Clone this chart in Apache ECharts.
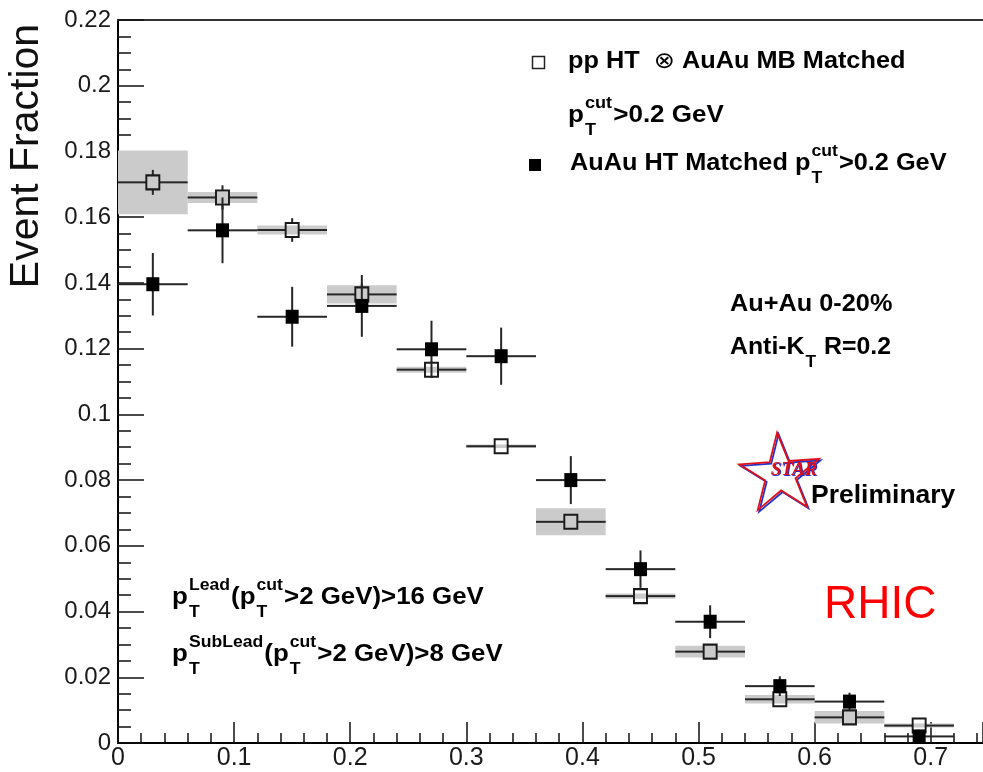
<!DOCTYPE html>
<html>
<head>
<meta charset="utf-8">
<script src="https://cdn.jsdelivr.net/npm/echarts@6/dist/echarts.min.js"></script>
<style>
  html, body { margin: 0; padding: 0; background: #ffffff; }
  #chart { width: 983px; height: 772px; }
</style>
</head>
<body>
<div id="chart"></div>
<script>
// Bin centres (12 bins, width 0.06)
const binCenters = [0.03, 0.09, 0.15, 0.21, 0.27, 0.33, 0.39, 0.45, 0.51, 0.57, 0.63, 0.69];
const binHalfWidth = 0.03;

// pp HT (x) AuAu MB matched: value, statistical error, systematic error
const ppEmbedFraction = [0.1706, 0.1660, 0.1561, 0.1365, 0.1136, 0.0903, 0.0673, 0.0447, 0.0278, 0.0133, 0.0078, 0.0053];
const ppEmbedStat     = [0.0038, 0.0037, 0.0036, 0.0033, 0.0025, 0.0021, 0.0019, 0.0017, 0.0014, 0.0011, 0.0009, 0.0008];
const ppEmbedSys      = [0.0097, 0.0017, 0.0014, 0.0028, 0.0009, 0.0005, 0.0041, 0.0008, 0.0018, 0.0013, 0.0019, 0.0006];

// AuAu HT matched: value, statistical error
const auauFraction = [0.1396, 0.1560, 0.1297, 0.1330, 0.1198, 0.1177, 0.0800, 0.0529, 0.0369, 0.0173, 0.0126, 0.0020];
const auauStat     = [0.0095, 0.0100, 0.0091, 0.0094, 0.0087, 0.0087, 0.0073, 0.0057, 0.0050, 0.0030, 0.0027, 0.0020];

// Axis tick labels
const xTickLabels = ['0', '0.1', '0.2', '0.3', '0.4', '0.5', '0.6', '0.7'];
const yTickLabels = ['0', '0.02', '0.04', '0.06', '0.08', '0.1', '0.12', '0.14', '0.16', '0.18', '0.2', '0.22'];
const xStep = 0.1, yStep = 0.02;
const xMax = 0.745;

const FONT = '"Liberation Sans", "DejaVu Sans", Arial, sans-serif';
const SERIF = '"Liberation Serif", "DejaVu Serif", serif';

// --- text helpers for sub/superscript annotations -------------------------
const measureCtx = document.createElement('canvas').getContext('2d');
function textWidth(str, size, weight) {
  measureCtx.font = weight + ' ' + size + 'px ' + FONT;
  return measureCtx.measureText(str).width;
}
function textEl(str, x, y, size, weight, color) {
  return {
    type: 'text', x: x, y: y, silent: true,
    style: { text: str, font: weight + ' ' + size + 'px ' + FONT, fill: color, align: 'left', verticalAlign: 'middle' }
  };
}
// parts: [{t:'base', sup:'..', sub:'..', w:'normal'}]; y is the middle of the main text
function richLine(x, y, parts, opt) {
  const size = opt.size, color = opt.color || '#000';
  const small = Math.round(size * 0.7);
  const kids = [];
  let cx = 0;
  parts.forEach(function (p) {
    const weight = p.w || opt.weight || 'bold';
    if (p.t) {
      kids.push(textEl(p.t, cx, 0, size, weight, color));
      cx += textWidth(p.t, size, weight);
    }
    if (p.sup || p.sub) {
      let w = 0;
      if (p.sup) {
        kids.push(textEl(p.sup, cx + 1, -0.52 * size, small, weight, color));
        w = Math.max(w, textWidth(p.sup, small, weight));
      }
      if (p.sub) {
        kids.push(textEl(p.sub, cx + 1, 0.62 * size, small, weight, color));
        w = Math.max(w, textWidth(p.sub, small, weight));
      }
      cx += w + 2;
    }
  });
  return { type: 'group', x: x, y: y, scaleX: opt.scaleX || 1, children: kids };
}

function starPoints(cx, cy, R, r, rotDeg) {
  const pts = [];
  for (let k = 0; k < 10; k++) {
    const ang = (rotDeg - 90 + k * 36) * Math.PI / 180;
    const rad = k % 2 === 0 ? R : r;
    pts.push([cx + rad * Math.cos(ang), cy + rad * Math.sin(ang)]);
  }
  return pts;
}

// --- custom renderers ------------------------------------------------------
function renderSysBox(params, api) {
  const x = api.value(0), y = api.value(1), e = api.value(2);
  const p1 = api.coord([x - binHalfWidth, y + e]);
  const p2 = api.coord([x + binHalfWidth, y - e]);
  return {
    type: 'rect',
    shape: { x: p1[0], y: p1[1], width: p2[0] - p1[0], height: Math.max(p2[1] - p1[1], 1) },
    style: { fill: '#cbcbcb' }
  };
}
function makeErrorRenderer(markerHalfW, markerHalfH) {
  return function (params, api) {
    const x = api.value(0), y = api.value(1), e = api.value(2);
    const c = api.coord([x, y]);
    const l = api.coord([x - binHalfWidth, y]);
    const r = api.coord([x + binHalfWidth, y]);
    const t = api.coord([x, y + e]);
    const b = api.coord([x, y - e]);
    const style = { stroke: '#262626', lineWidth: 2 };
    const kids = [
      { type: 'line', shape: { x1: l[0], y1: c[1], x2: c[0] - markerHalfW, y2: c[1] }, style: style },
      { type: 'line', shape: { x1: c[0] + markerHalfW, y1: c[1], x2: r[0], y2: c[1] }, style: style }
    ];
    if (t[1] < c[1] - markerHalfH) {
      kids.push({ type: 'line', shape: { x1: c[0], y1: t[1], x2: c[0], y2: c[1] - markerHalfH }, style: style });
      kids.push({ type: 'line', shape: { x1: c[0], y1: c[1] + markerHalfH, x2: c[0], y2: b[1] }, style: style });
    }
    return { type: 'group', children: kids };
  };
}

const ppSysData  = binCenters.map(function (x, i) { return [x, ppEmbedFraction[i], ppEmbedSys[i]]; });
const ppErrData  = binCenters.map(function (x, i) { return [x, ppEmbedFraction[i], ppEmbedStat[i]]; });
const ppPoints   = binCenters.map(function (x, i) { return [x, ppEmbedFraction[i]]; });
const auErrData  = binCenters.map(function (x, i) { return [x, auauFraction[i], auauStat[i]]; });
const auPoints   = binCenters.map(function (x, i) { return [x, auauFraction[i]]; });

function tickLabel(labels, step) {
  return function (v) {
    const i = Math.round(v / step);
    return (Math.abs(v - i * step) < 1e-6 && i >= 0 && i < labels.length) ? labels[i] : '';
  };
}

const markerSize = [13, 14];

const chart = echarts.init(document.getElementById('chart'), null, { renderer: 'canvas' });

const option = {
  animation: false,
  backgroundColor: '#ffffff',
  grid: { left: 118, top: 20, right: 0, bottom: 29, containLabel: false, outerBoundsMode: 'none' },
  xAxis: [{
    type: 'value', min: 0, max: xMax, interval: xStep,
    axisLine: { show: true, onZero: false, lineStyle: { color: '#000', width: 2 } },
    axisTick: { show: true, inside: true, length: 21, lineStyle: { color: '#111', width: 1.5 } },
    minorTick: { show: true, splitNumber: 5, length: 10, lineStyle: { color: '#111', width: 1.5 } },
    splitLine: { show: false }, minorSplitLine: { show: false },
    axisLabel: { show: true, margin: 3, color: '#1a1a1a', fontFamily: FONT, fontSize: 25,
      showMaxLabel: false, formatter: tickLabel(xTickLabels, xStep) }
  }, {
    type: 'value', position: 'top', min: 0, max: xMax,
    axisLine: { show: true, onZero: false, lineStyle: { color: '#333', width: 2 } },
    axisTick: { show: false }, axisLabel: { show: false }, splitLine: { show: false }
  }],
  yAxis: {
    type: 'value', min: 0, max: 0.22, interval: yStep,
    axisLine: { show: true, onZero: false, lineStyle: { color: '#000', width: 2 } },
    axisTick: { show: true, inside: true, length: 26, lineStyle: { color: '#111', width: 1.5 } },
    minorTick: { show: true, splitNumber: 4, length: 13, lineStyle: { color: '#111', width: 1.5 } },
    splitLine: { show: false }, minorSplitLine: { show: false },
    axisLabel: { show: true, margin: 7, color: '#1a1a1a', fontFamily: FONT, fontSize: 24,
      formatter: tickLabel(yTickLabels, yStep) }
  },
  series: [
    { type: 'custom', name: 'ppSys', renderItem: renderSysBox, data: ppSysData, z: 1, silent: true,
      encode: { x: 0, y: 1 } },
    { type: 'custom', name: 'ppErr', renderItem: makeErrorRenderer(6.5, 7), data: ppErrData, z: 2, silent: true,
      encode: { x: 0, y: 1 } },
    { type: 'scatter', name: 'pp HT (x) AuAu MB Matched', data: ppPoints, symbol: 'rect', symbolSize: markerSize,
      itemStyle: { color: 'rgba(0,0,0,0)', borderColor: '#1a1a1a', borderWidth: 2, opacity: 1 }, z: 3, silent: true },
    { type: 'custom', name: 'auErr', renderItem: makeErrorRenderer(6, 6), data: auErrData, z: 4, silent: true,
      encode: { x: 0, y: 1 } },
    { type: 'scatter', name: 'AuAu HT Matched', data: auPoints, symbol: 'rect', symbolSize: markerSize,
      itemStyle: { color: '#000', opacity: 1 }, z: 5, silent: true }
  ],
  graphic: [
    // y axis title
    { type: 'text', x: 27, y: 156, rotation: Math.PI / 2, silent: true,
      style: { text: 'Event Fraction', font: '41px ' + FONT, fill: '#111', align: 'center', verticalAlign: 'middle' } },

    // legend
    { type: 'rect', shape: { x: 532.5, y: 56.5, width: 12, height: 12 }, silent: true,
      style: { fill: '#fff', stroke: '#222', lineWidth: 1.5 } },
    richLine(568, 62, [{ t: 'pp HT  ' }, { t: '\u2297', w: 'normal' }, { t: ' AuAu MB Matched' }], { size: 23, scaleX: 1.1 }),
    richLine(568, 116, [{ t: 'p', sup: 'cut', sub: 'T' }, { t: '>0.2 GeV' }], { size: 23, scaleX: 1.13 }),
    { type: 'rect', shape: { x: 529, y: 159, width: 12, height: 12 }, silent: true,
      style: { fill: '#000' } },
    richLine(570, 164, [{ t: 'AuAu HT Matched p', sup: 'cut', sub: 'T' }, { t: '>0.2 GeV' }], { size: 23, scaleX: 1.1 }),

    // collision system / jet definition
    richLine(730, 305, [{ t: 'Au+Au 0-20%' }], { size: 23, scaleX: 1.1 }),
    richLine(730, 348, [{ t: 'Anti-K', sub: 'T' }, { t: ' R=0.2' }], { size: 23, scaleX: 1.08 }),

    // dijet selection
    richLine(172, 598, [{ t: 'p', sup: 'Lead', sub: 'T' }, { t: '(p', sup: 'cut', sub: 'T' }, { t: '>2 GeV)>16 GeV' }], { size: 23.5, scaleX: 1.1 }),
    richLine(172, 655, [{ t: 'p', sup: 'SubLead', sub: 'T' }, { t: '(p', sup: 'cut', sub: 'T' }, { t: '>2 GeV)>8 GeV' }], { size: 23.5, scaleX: 1.1 }),

    // STAR logo
    { type: 'polygon', silent: true, shape: { points: starPoints(781.5, 476, 42, 16, -4) },
      style: { fill: 'none', stroke: '#2233cc', lineWidth: 1.8 } },
    { type: 'polygon', silent: true, shape: { points: starPoints(780, 474.5, 42, 16, -4) },
      style: { fill: 'none', stroke: '#e0101a', lineWidth: 1.8 } },
    { type: 'text', x: 795, y: 471, silent: true,
      style: { text: 'STAR', font: 'italic bold 19px ' + SERIF, fill: '#2233cc', align: 'center', verticalAlign: 'middle' } },
    { type: 'text', x: 794, y: 470, silent: true,
      style: { text: 'STAR', font: 'italic bold 19px ' + SERIF, fill: '#e0101a', align: 'center', verticalAlign: 'middle' } },
    richLine(811, 496, [{ t: 'Preliminary' }], { size: 25, scaleX: 1.06 }),

    // facility label
    { type: 'text', x: 824, y: 605, silent: true,
      style: { text: 'RHIC', font: '46px ' + FONT, fill: '#ff0000', align: 'left', verticalAlign: 'middle' } }
  ]
};

chart.setOption(option);
</script>
</body>
</html>
